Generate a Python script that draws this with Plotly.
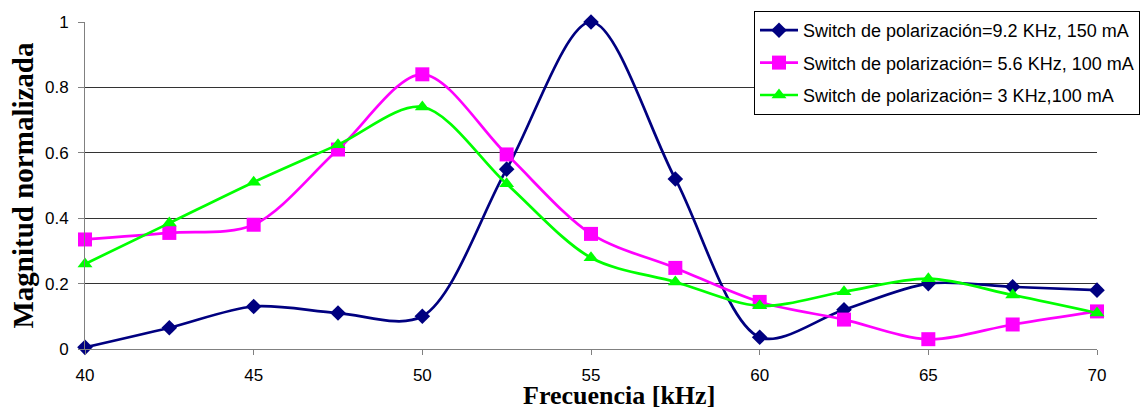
import plotly.graph_objects as go

freq = [40, 42.5, 45, 47.5, 50, 52.5, 55, 57.5, 60, 62.5, 65, 67.5, 70]
s_92 = [0.005, 0.065, 0.13, 0.11, 0.10, 0.55, 1.0, 0.52, 0.036, 0.12, 0.20, 0.19, 0.18]
s_56 = [0.335, 0.355, 0.38, 0.61, 0.84, 0.595, 0.352, 0.248, 0.144, 0.09, 0.03, 0.075, 0.115]
s_3 = [0.26, 0.385, 0.51, 0.625, 0.74, 0.505, 0.279, 0.205, 0.132, 0.175, 0.215, 0.165, 0.11]

names = [
    "Switch de polarización=9.2 KHz, 150 mA",
    "Switch de polarización= 5.6 KHz, 100 mA",
    "Switch de polarización= 3 KHz,100 mA",
]
x_tick_vals = [40, 45, 50, 55, 60, 65, 70]
y_tick_vals = [0, 0.2, 0.4, 0.6, 0.8, 1]
y_tick_text = ["0", "0.2", "0.4", "0.6", "0.8", "1"]
x_title = "Frecuencia [kHz]"
y_title = "Magnitud normalizada"

colors = ["#000080", "#FF00FF", "#00FF00"]
symbols = ["diamond", "square", "triangle-up"]
sizes = [12, 14, 13]
series = [s_92, s_56, s_3]

fig = go.Figure()
for i, (ys, nm, c, sym, sz) in enumerate(zip(series, names, colors, symbols, sizes)):
    fig.add_trace(go.Scatter(
        x=freq, y=ys, name=nm, mode="lines+markers",
        line=dict(color=c, width=2.7, shape="spline", smoothing=0.9),
        marker=dict(symbol=sym, size=sz, color=c),
        cliponaxis=False, legendgroup=f"g{i}",
    ))

serif = "Liberation Serif, Times New Roman, serif"
fig.update_layout(
    width=1142, height=410,
    margin=dict(l=85, r=45, t=22, b=61, autoexpand=False),
    paper_bgcolor="white", plot_bgcolor="white",
    font=dict(family="Liberation Sans, Arial", size=17, color="black"),
    showlegend=True,
    legend=dict(
        x=(754 - 85) / 1012, y=(349 - 11) / 327, xanchor="left", yanchor="top",
        bordercolor="black", borderwidth=1, bgcolor="white",
        font=dict(size=18), tracegroupgap=6, itemwidth=38,
    ),
    xaxis=dict(
        range=[40, 70], tickvals=x_tick_vals,
        showgrid=False, zeroline=False,
        showline=True, linecolor="#808080", linewidth=1,
        ticks="outside", ticklen=5, tickcolor="#808080",
        ticklabelstandoff=6,
    ),
    yaxis=dict(
        range=[0, 1], tickvals=y_tick_vals, ticktext=y_tick_text,
        showgrid=True, gridcolor="#333333", gridwidth=1,
        zeroline=False,
        showline=True, linecolor="#808080", linewidth=1,
        ticks="outside", ticklen=6, tickcolor="#808080",
        ticklabelstandoff=6,
    ),
    annotations=[
        dict(text=f"<b>{x_title}</b>", xref="paper", yref="paper",
             x=(619 - 85) / 1012, y=(349 - 411) / 327, xanchor="center", yanchor="bottom",
             showarrow=False, font=dict(family=serif, size=26), borderpad=0),
        dict(text=f"<b>{y_title}</b>", xref="paper", yref="paper", textangle=-90,
             x=(22 - 85) / 1012, y=0.5, xanchor="center", yanchor="middle",
             showarrow=False, font=dict(family=serif, size=29)),
    ],
)

fig.write_html(
    "out.html",
    config={"displayModeBar": False},
    post_script="document.body.style.margin='0px';document.body.style.overflow='hidden';",
)
